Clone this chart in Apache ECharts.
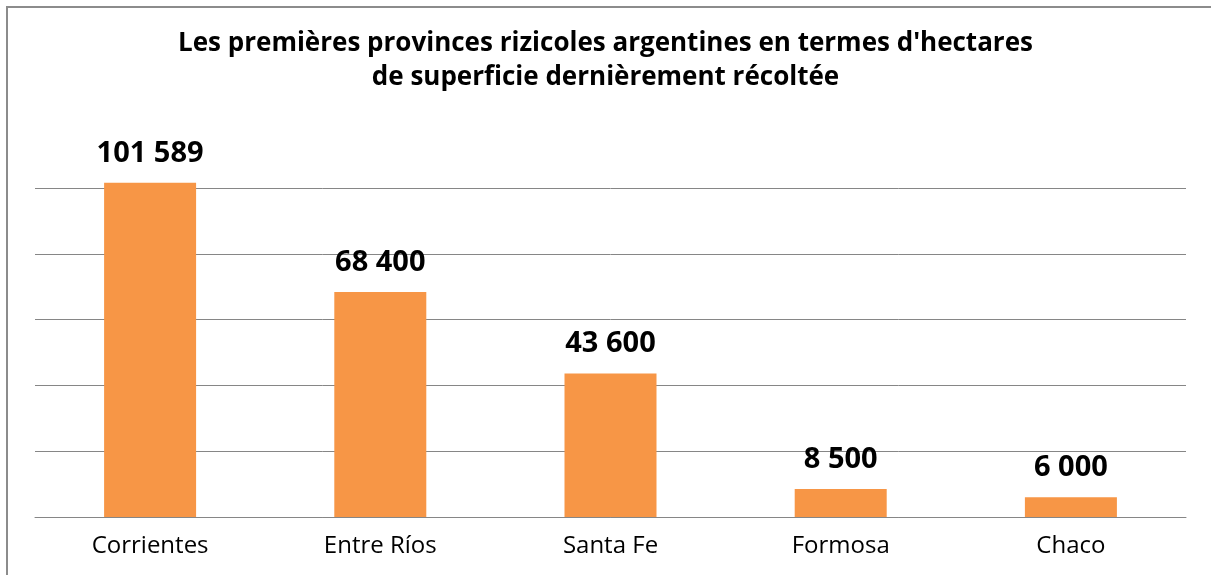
<!DOCTYPE html>
<html>
<head>
<meta charset="utf-8">
<script src="https://cdn.jsdelivr.net/npm/echarts@6/dist/echarts.min.js"></script>
<style>
html, body { margin: 0; padding: 0; background: #fff; overflow: hidden; }
#main { width: 1211px; height: 575px; }
</style>
</head>
<body>
<div id="main"></div>
<script>
// données : provinces et hectares récoltés
var provinces = ['Corrientes', 'Entre Ríos', 'Santa Fe', 'Formosa', 'Chaco'];
var hectares = [101589, 68400, 43600, 8500, 6000];
var titre = "Les premières provinces rizicoles argentines en termes d'hectares\nde superficie dernièrement récoltée";

// format "101 589"
function fmt(v) {
	return String(v).replace(/\B(?=(\d{3})+(?!\d))/g, ' ');
}

var chart = echarts.init(document.getElementById('main'));
chart.setOption({
	animation: false,
	backgroundColor: '#fff',
	textStyle: { fontFamily: 'Open Sans' },
	title: {
		text: titre,
		left: 'center',
		top: 22,
		textStyle: {
			fontFamily: 'Open Sans',
			fontWeight: 'bold',
			fontSize: 26,
			lineHeight: 34,
			color: '#000'
		}
	},
	// cadre : seulement les bords gauche et haut sont visibles
	graphic: [{
		type: 'rect',
		shape: { x: 1195, y: 9, width: 20, height: 570 },
		style: { fill: '#fff' },
		z: 100,
		silent: true
	}, {
		type: 'line',
		shape: { x1: 7, y1: 7, x2: 1211, y2: 7 },
		style: { stroke: '#8c8c8c', lineWidth: 2 },
		z: 101,
		silent: true
	}, {
		type: 'line',
		shape: { x1: 7, y1: 6, x2: 7, y2: 575 },
		style: { stroke: '#8c8c8c', lineWidth: 2 },
		silent: true
	}],
	grid: { left: 35, right: 25, top: 188, bottom: 58 },
	xAxis: {
		type: 'category',
		data: provinces,
		axisLine: { lineStyle: { color: '#868686', width: 1 } },
		axisTick: { length: 8, lineStyle: { color: '#868686' } },
		axisLabel: { color: '#000', fontSize: 24, margin: 17, fontFamily: 'Open Sans' }
	},
	yAxis: {
		type: 'value',
		min: 0,
		max: 100000,
		interval: 20000,
		axisLabel: { show: false },
		axisLine: { show: false },
		axisTick: { show: false },
		splitLine: { lineStyle: { color: '#868686', width: 1 } }
	},
	series: [{
		type: 'bar',
		data: hectares,
		barWidth: 92,
		clip: false,
		itemStyle: { color: '#F79646' },
		label: {
			show: true,
			position: 'top',
			distance: 15,
			color: '#000',
			fontWeight: 'bold',
			fontSize: 29,
			fontFamily: 'Open Sans',
			formatter: function(p) { return fmt(p.value); }
		}
	}]
});
</script>
</body>
</html>
